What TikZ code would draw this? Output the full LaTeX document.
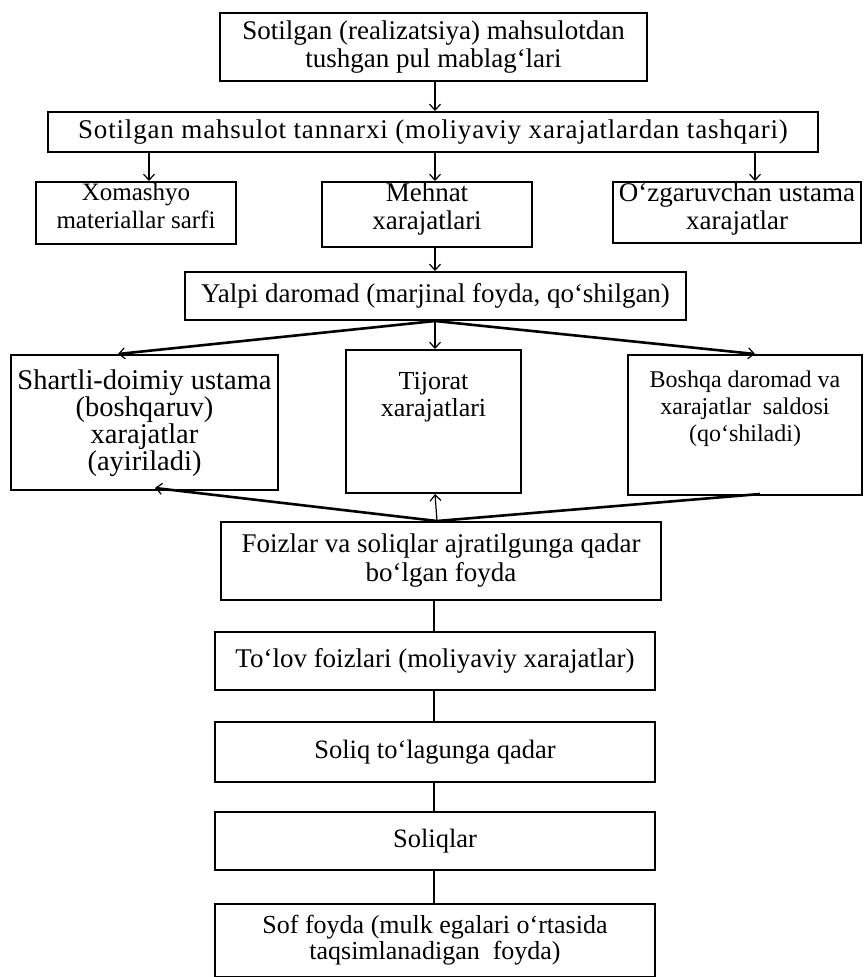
\documentclass[tikz,border=0pt]{standalone}
\usepackage{fontspec}
\setmainfont{Liberation Serif}
\usetikzlibrary{arrows.meta}
\begin{document}
\begin{tikzpicture}[x=1pt,y=-1pt,
  f/.style={font=\fontsize{#1}{28}\selectfont},
  box/.style={draw, line width=2pt, align=center, inner sep=0pt, f=27},
  tbox/.style={draw, line width=2pt, inner sep=0pt},
  txt/.style={align=center, anchor=north, inner sep=0pt},
  thin/.style={line width=1.2pt},
  thick/.style={line width=2.6pt},
  tip/.style={-{Straight Barb[length=6pt,width=11pt,line width=1.2pt]}}
]
\useasboundingbox (0,0) rectangle (864,977);

% proceeds and cost of sales
\node[box, minimum width=427, minimum height=68] (rev) at (433.5,47)
  {Sotilgan (realizatsiya) mahsulotdan\\tushgan pul mablag‘lari};
\node[box, minimum width=770, minimum height=40] (cost) at (433,132)
  {\addfontfeature{LetterSpace=3}Sotilgan mahsulot tannarxi (moliyaviy xarajatlardan tashqari)};

% cost components
\node[tbox, minimum width=200, minimum height=62] (raw) at (136,213) {};
\node[txt, f=25] (rawt) at (136,183) {Xomashyo\\materiallar sarfi};
\node[tbox, minimum width=210, minimum height=65] (labour) at (427,214.5) {};
\node[txt, f=27] (labourt) at (427,183) {Mehnat\\xarajatlari};
\node[tbox, minimum width=248, minimum height=61] (varoh) at (737,212.5) {};
\node[txt, f=27] (varoht) at (737,183) {O‘zgaruvchan ustama\\xarajatlar};

\node[box, minimum width=501, minimum height=48] (gross) at (435.5,296)
  {Yalpi daromad (marjinal foyda, qo‘shilgan)};

% items between gross margin and operating profit
\node[tbox, minimum width=267, minimum height=135] (fixed) at (144.5,422.5) {};
\node[txt, font=\fontsize{28.5}{27}\selectfont] (fixedt) at (144.5,370)
  {Shartli-doimiy ustama\\(boshqaruv)\\xarajatlar\\(ayiriladi)};
\node[tbox, minimum width=175, minimum height=143] (trade) at (433.5,421.5) {};
\node[txt, font=\fontsize{26}{27}\selectfont] (tradet) at (433.5,372) {Tijorat\\xarajatlari};
\node[tbox, minimum width=234, minimum height=140] (other) at (745,425) {};
\node[txt, font=\fontsize{24}{27}\selectfont] (othert) at (745,371)
  {Boshqa daromad va\\xarajatlar\ \ saldosi\\(qo‘shiladi)};

% profit chain
\node[box, minimum width=440, minimum height=78, font=\fontsize{27}{29}\selectfont] (ebit) at (441,561)
  {Foizlar va soliqlar ajratilgunga qadar\\bo‘lgan foyda};
\node[box, minimum width=440, minimum height=58] (interest) at (435,661)
  {To‘lov foizlari (moliyaviy xarajatlar)};
\node[box, minimum width=440, minimum height=60, f=26.5] (ebt) at (435,752)
  {Soliq to‘lagunga qadar};
\node[box, minimum width=440, minimum height=58, f=26.5] (tax) at (435,841)
  {Soliqlar};
\node[box, minimum width=440, minimum height=73, font=\fontsize{26}{26}\selectfont] (net) at (435,940)
  {Sof foyda (mulk egalari o‘rtasida\\taqsimlanadigan\ \ foyda)};

% connectors
\draw[thin, tip] (rev.south -| 435,0) -- (cost.north -| 435,0);
\draw[thin, tip] (cost.south -| 149,0) -- (raw.north -| 149,0);
\draw[thin, tip] (cost.south -| 435,0) -- (labour.north -| 435,0);
\draw[thin, tip] (cost.south -| 755,0) -- (varoh.north -| 755,0);
\draw[thin, tip] (labour.south -| 435,0) -- (gross.north -| 435,0);

\coordinate (gs) at (gross.south -| 435,0);
\draw[thick, tip] (gs) -- (fixed.north -| 118,0);
\draw[thin, tip] (gs) -- (trade.north -| 435,0);
\draw[thick, tip] (gs) -- (other.north -| 755,0);

\coordinate (en) at (ebit.north -| 437,0);
\draw[thick, tip] (en) -- ([yshift=3pt]fixed.south -| 155,0);
\draw[thin, tip] (en) -- (trade.south -| 435,0);
\draw[thick] (en) -- ([yshift=2pt]other.south -| 760,0);

\draw[thin] (ebit.south -| 434,0) -- (interest.north -| 434,0);
\draw[thin] (interest.south -| 434,0) -- (ebt.north -| 434,0);
\draw[thin] (ebt.south -| 434,0) -- (tax.north -| 434,0);
\draw[thin] (tax.south -| 434,0) -- (net.north -| 434,0);
\end{tikzpicture}
\end{document}
